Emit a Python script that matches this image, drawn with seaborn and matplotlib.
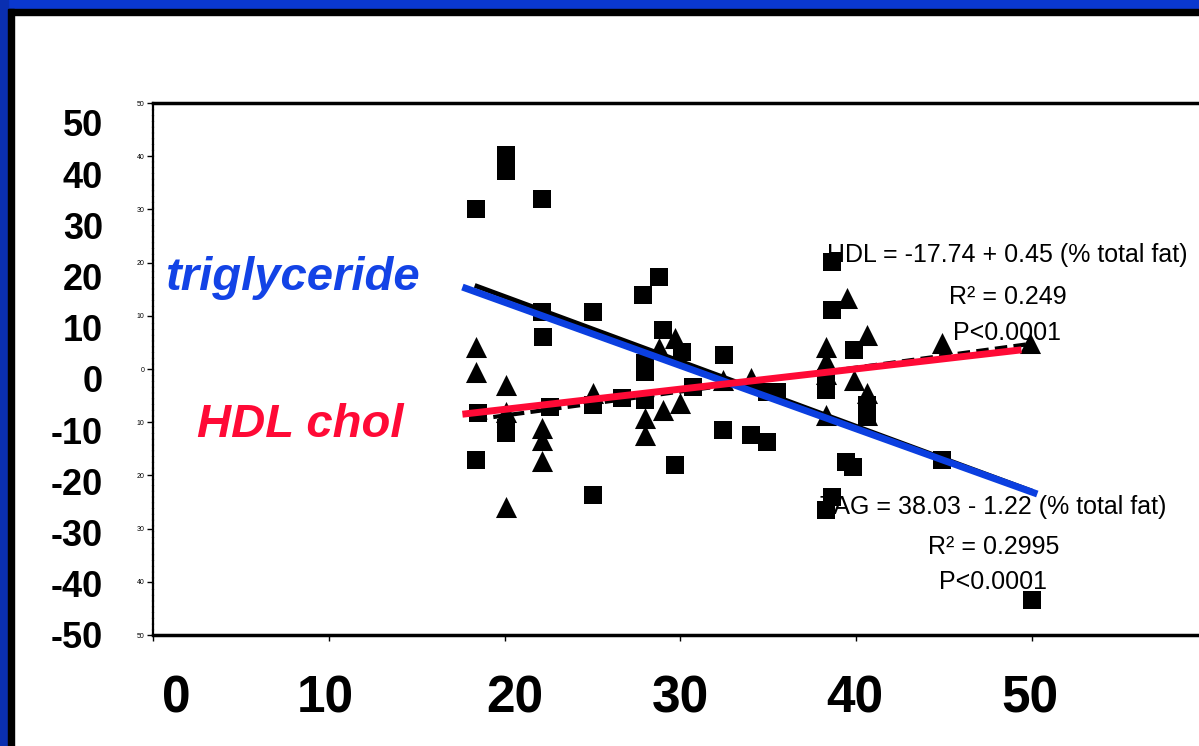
import matplotlib
matplotlib.use("Agg")
import matplotlib.pyplot as plt
import seaborn as sns
import pandas as pd
import numpy as np
from matplotlib.patches import Rectangle

# ---------------- data ----------------
tag_x = [18.4, 20.1, 20.1, 22.1, 22.1, 22.2, 25.0, 27.9, 28.8, 29.0, 30.1, 28.0, 28.0, 28.0,
         32.5, 34.9, 35.5, 18.4, 20.1, 20.1, 22.6, 18.5, 25.0, 26.7, 30.7, 25.0, 29.7, 32.4,
         34.0, 34.9, 38.6, 38.6, 39.9, 38.3, 38.3, 40.6, 40.6, 39.8, 39.4, 38.6, 38.3, 44.9, 50.0]
tag_y = [30.1, 40.2, 37.2, 32.0, 10.7, 6.0, 10.7, 13.9, 17.3, 7.3, 3.2, 1.1, -0.6, -5.8,
         2.6, -4.3, -4.3, -17.1, -11.1, -12.0, -7.1, -8.3, -6.8, -5.5, -3.4, -23.7, -18.0, -11.5,
         -12.4, -13.7, 20.1, 11.1, 3.6, -1.7, -3.9, -6.8, -8.6, -18.4, -17.5, -24.1, -26.5, -17.1, -43.4]

hdl_x = [18.4, 18.4, 20.1, 20.1, 20.1, 22.1, 22.1, 22.1, 25.0, 28.0, 28.0, 28.8, 29.0, 29.7,
         30.0, 32.4, 34.0, 38.3, 38.3, 38.3, 38.3, 39.5, 40.6, 39.9, 40.6, 40.6, 44.9, 49.9]
hdl_y = [4.1, -0.6, -3.0, -8.1, -25.9, -11.1, -13.3, -17.3, -4.5, -9.2, -12.4, 3.9, -7.7, 5.8,
         -6.4, -2.1, -1.7, 4.1, 1.5, -1.0, -8.6, 13.3, 6.4, -2.1, -4.5, -8.6, 4.9, 4.9]

# printed regressions
tag_intercept, tag_slope = 38.03, -1.22
hdl_intercept, hdl_slope = -17.74, 0.45
fit_range = [18.3, 50.0]

# hand-drawn coloured overlay lines (end points)
blue_x, blue_y = [17.6, 50.3], [15.4, -23.5]
red_x, red_y = [17.6, 49.4], [-8.5, 3.6]

hdl_text = ["HDL = -17.74 + 0.45 (% total fat)", "R² = 0.249", "P<0.0001"]
tag_text = ["TAG = 38.03 - 1.22 (% total fat)", "R² = 0.2995", "P<0.0001"]

small_yticks = list(range(-50, 51, 10))
small_xticks = list(range(0, 51, 10))
big_ylabels = ["50", "40", "30", "20", "10", "0", "-10", "-20", "-30", "-40", "-50"]
big_yvals = [50, 40, 30, 20, 10, 0, -10, -20, -30, -40, -50]
big_xlabels = ["0", "10", "20", "30", "40", "50"]

# ---------------- layout ----------------
W, H = 1199, 746
sns.set_theme(style="white")
plt.rcParams["font.family"] = ["Liberation Sans", "DejaVu Sans"]

fig = plt.figure(figsize=(W / 100, H / 100), dpi=100)
fig.patch.set_facecolor("white")
ax = fig.add_axes([153 / W, 1 - 635 / H, (W - 153) / W, 532 / H])
ax.set_facecolor("white")

df_tag = pd.DataFrame({"fat": tag_x, "change": tag_y})
df_hdl = pd.DataFrame({"fat": hdl_x, "change": hdl_y})

sns.scatterplot(data=df_tag, x="fat", y="change", marker="s", s=175, color="black",
                linewidth=0, ax=ax, zorder=3, legend=False)
sns.scatterplot(data=df_hdl, x="fat", y="change", marker="^", s=230, color="black",
                linewidth=0, ax=ax, zorder=3, legend=False)

fx = np.array(fit_range)
ax.plot(fx, tag_intercept + tag_slope * fx, color="black", lw=3.5, zorder=4,
        solid_capstyle="butt")
ax.plot(fx, hdl_intercept + hdl_slope * fx, color="black", lw=3, zorder=4,
        linestyle=(0, (3, 1.5)))
ax.plot(blue_x, blue_y, color="#0b3fe0", lw=5, zorder=5, solid_capstyle="butt")
ax.plot(red_x, red_y, color="#ff0a36", lw=5, zorder=5, solid_capstyle="butt")

# regression annotations
for txt, yv in zip(hdl_text, [21.4, 13.5, 6.8]):
    ax.text(48.6, yv, txt, ha="center", va="center", fontsize=18, color="black", zorder=2)
for txt, yv in zip(tag_text, [-25.9, -33.5, -40.0]):
    ax.text(47.8, yv, txt, ha="center", va="center", fontsize=18, color="black", zorder=2)

# overlay labels
ax.text(7.9, 17.1, "triglyceride", ha="center", va="center", fontsize=34,
        fontweight="bold", fontstyle="italic", color="#1343e6", zorder=6, clip_on=False)
ax.text(8.4, -10.5, "HDL chol", ha="center", va="center", fontsize=34,
        fontweight="bold", fontstyle="italic", color="#ff0a36", zorder=6, clip_on=False)

ax.set_xlim(0, (W - 153) / 17.58)
ax.set_ylim(-50, 50)
ax.set_xticks(small_xticks)
ax.set_xticklabels([])
ax.set_yticks(small_yticks)
ax.set_yticklabels([str(abs(v)) for v in small_yticks])
ax.tick_params(axis="y", left=True, direction="out", length=4, width=1, labelsize=5,
               pad=2, colors="black")
ax.tick_params(axis="x", bottom=True, direction="out", length=4, width=1, colors="black")
ax.set_xlabel("")
ax.set_ylabel("")
ax.grid(False)
for side in ["top", "bottom"]:
    ax.spines[side].set_linewidth(2.5)
    ax.spines[side].set_color("black")
ax.spines["left"].set_linewidth(1.6)
ax.spines["left"].set_color("black")
ax.spines["left"].set_linestyle((0, (2, 0.6)))
ax.spines["right"].set_visible(False)

# big bold y labels (slide overlay)
ax2 = ax.twinx()
ax2.set_ylim(-50, 53.9)
ax2.set_yticks(big_yvals)
ax2.set_yticklabels(big_ylabels, fontweight="bold")
ax2.yaxis.tick_left()
ax2.tick_params(axis="y", length=0, pad=36, labelsize=26, colors="black")
ax2.grid(False)
for s in ax2.spines.values():
    s.set_visible(False)

# big bold x labels (slide overlay, irregular placement)
big_xpos = [1.31, 9.78, 20.59, 29.98, 39.93, 49.89]
for lbl, xp in zip(big_xlabels, big_xpos):
    ax.text(xp, -0.120, lbl, transform=ax.get_xaxis_transform(), ha="center", va="center",
            fontsize=37, fontweight="bold", color="black", clip_on=False)

# slide frame
blue = "#0a38cf"
fig.patches.append(Rectangle((0, 1 - 9 / H), 1, 9 / H, transform=fig.transFigure,
                             color=blue, zorder=10))
fig.patches.append(Rectangle((8 / W, 1 - 15 / H), 1, 6 / H, transform=fig.transFigure,
                             color="black", zorder=10))
fig.patches.append(Rectangle((0, 0), 8 / W, 1, transform=fig.transFigure,
                             color="#0a2fb0", zorder=10))
fig.patches.append(Rectangle((8 / W, 0), 6 / W, 1 - 9 / H, transform=fig.transFigure,
                             color="black", zorder=10))

fig.savefig("out.png", dpi=100)
